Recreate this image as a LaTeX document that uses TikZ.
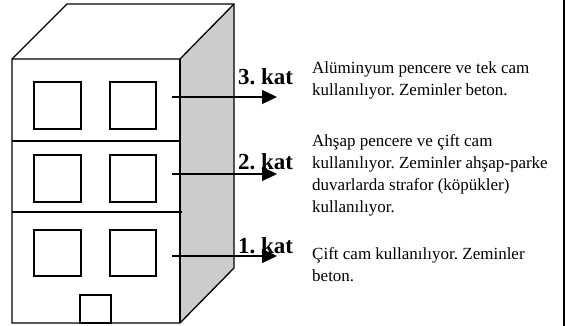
\documentclass[tikz,border=0pt]{standalone}
\usepackage{fontspec}
\setmainfont{Liberation Serif}
\usetikzlibrary{arrows.meta}
\frenchspacing
\begin{document}
\begin{tikzpicture}[x=1pt,y=-1pt,
  edge/.style={draw=black,line width=1.3pt,line join=miter},
  win/.style={draw=black,line width=1.8pt},
  floorline/.style={draw=black,line width=1.8pt},
  floorarrow/.style={draw=black,line width=1.3pt,-{Triangle[length=15pt,width=14pt]}},
  katlabel/.style={anchor=base west,inner sep=0pt,font=\bfseries\fontsize{23}{23}\selectfont},
  desc/.style={anchor=base west,inner sep=0pt,align=left,font=\fontsize{17}{22}\selectfont}]
\useasboundingbox (0,0) rectangle (565,326);
\fill[white] (0,0) rectangle (565,326);
% frame strip on the right
\fill[black] (563,0) rectangle (565,326);

% shaded side face
\fill[gray!40] (180,59) -- (234,4) -- (234,268) -- (180,323) -- cycle;
% outline of the block
\draw[edge] (12,323) -- (12,59) -- (67,4) -- (234,4) -- (234,268) -- (180,323) -- cycle;
\draw[edge] (12,59) -- (180,59) -- (234,4);
\draw[edge] (180,59) -- (180,323);

% floor separators
\draw[floorline] (12,141) -- (181,141);
\draw[floorline] (12,212) -- (182,212);

% windows
\foreach \y/\h in {82/129,155/202,230/276}{
  \draw[win] (34,\y) rectangle (81,\h);
  \draw[win] (110,\y) rectangle (156,\h);
}
% door
\draw[win] (80,295) rectangle (111,323);

% floor arrows
\coordinate (a3s) at (172,97);  \coordinate (a3e) at (277,97);
\coordinate (a2s) at (172,174); \coordinate (a2e) at (277,174);
\coordinate (a1s) at (172,256); \coordinate (a1e) at (277,256);
\draw[floorarrow] (a3s) -- (a3e);
\draw[floorarrow] (a2s) -- (a2e);
\draw[floorarrow] (a1s) -- (a1e);

% floor labels
\node[katlabel] (k3) at (238,85) {3. kat};
\node[katlabel] (k2) at (238,169) {2. kat};
\node[katlabel] (k1) at (238,253) {1. kat};

% descriptions (anchored on the baseline of their last line)
\node[desc] (d3) at (312,96) {Alüminyum pencere ve tek cam\\kullanılıyor. Zeminler beton.};
\node[desc] (d2) at (312,212) {Ahşap pencere ve çift cam\\kullanılıyor. Zeminler ahşap-parke\\duvarlarda strafor (köpükler)\\kullanılıyor.};
\node[desc] (d1) at (312,281) {Çift cam kullanılıyor. Zeminler\\beton.};
\end{tikzpicture}
\end{document}
